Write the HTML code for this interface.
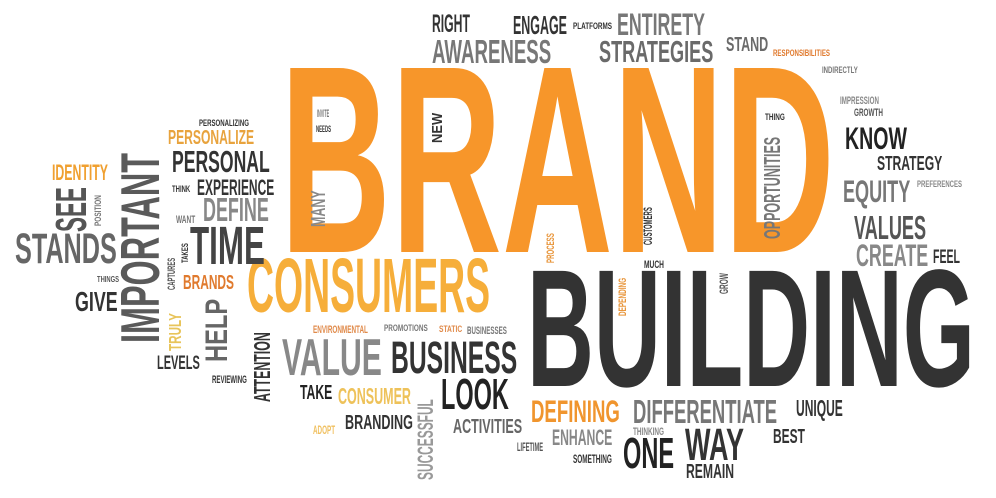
<!DOCTYPE html>
<html><head><meta charset="utf-8">
<style>
html,body{margin:0;padding:0;background:#fff;}
#cloud{position:relative;width:996px;height:498px;overflow:hidden;background:#fff;}
.w{position:absolute;white-space:nowrap;line-height:1;font-family:"Liberation Sans Narrow","Liberation Sans",sans-serif;font-weight:bold;transform-origin:0 0;display:inline-block;}
.r{position:absolute;transform-origin:0 0;transform:rotate(-90deg);width:0;height:0;}
</style></head>
<body>
<div id="cloud"></div>
<script>
// words: text, x, y (cap top), width, cap height, color, rotated(0/1)
const words = [
["BRAND",280,73,555,195,"#f7962a",0],
["BUILDING",527,275,448,122,"#333333",0],
["CONSUMERS",247,262,243,56,"#f6ae3a",0],
["RIGHT",432,17,38,18,"#333333",0],
["ENGAGE",513,17,54,19,"#333333",0],
["AWARENESS",432,42,119,24,"#777777",0],
["PLATFORMS",573,24,39,7,"#333333",0],
["ENTIRETY",617,15,88,23,"#777777",0],
["STRATEGIES",599,43,114,22,"#6a6a6a",0],
["STAND",726,39,42,15,"#6a6a6a",0],
["RESPONSIBILITIES",773,51,57,7,"#e07a2e",0],
["INDIRECTLY",822,68,36,7,"#777777",0],
["IMPRESSION",840,98,39,8,"#888888",0],
["GROWTH",854,110,29,8,"#555555",0],
["THING",765,115,20,7,"#333333",0],
["KNOW",845,129,62,23,"#222222",0],
["STRATEGY",877,158,65,15,"#333333",0],
["EQUITY",843,182,67,23,"#777777",0],
["PREFERENCES",917,182,45,7,"#888888",0],
["VALUES",854,218,72,24,"#555555",0],
["CREATE",856,246,72,23,"#888888",0],
["FEEL",933,251,27,14,"#333333",0],
["MUCH",644,262,20,8,"#333333",0],
["PERSONALIZING",199,121,50,7,"#333333",0],
["PERSONALIZE",168,132,86,15,"#e8a33d",0],
["PERSONAL",172,153,98,22,"#333333",0],
["IDENTITY",52,166,56,16,"#f0a030",0],
["THINK",172,187,18,7,"#333333",0],
["EXPERIENCE",197,181,77,16,"#333333",0],
["WANT",176,217,19,8,"#777777",0],
["DEFINE",203,200,66,24,"#888888",0],
["STANDS",15,236,102,31,"#666666",0],
["TIME",190,229,75,39,"#444444",0],
["THINGS",97,277,22,6,"#555555",0],
["BRANDS",183,277,51,15,"#e07a2e",0],
["GIVE",75,293,43,20,"#333333",0],
["LEVELS",157,357,43,14,"#333333",0],
["REVIEWING",212,377,35,8,"#333333",0],
["INVITE",317,111,12,8,"#777777",0],
["NEEDS",316,127,15,7,"#333333",0],
["ENVIRONMENTAL",313,327,55,8,"#e08a4a",0],
["PROMOTIONS",384,326,44,7,"#777777",0],
["STATIC",439,327,23,7,"#e08a4a",0],
["BUSINESSES",467,328,40,8,"#777777",0],
["VALUE",282,341,100,38,"#888888",0],
["BUSINESS",391,343,126,33,"#333333",0],
["TAKE",300,387,32,15,"#222222",0],
["CONSUMER",338,389,73,17,"#eec25a",0],
["LOOK",441,381,68,32,"#222222",0],
["ADOPT",313,426,22,9,"#f0c060",0],
["BRANDING",345,417,68,15,"#333333",0],
["ACTIVITIES",453,421,69,15,"#666666",0],
["LIFETIME",517,443,26,9,"#555555",0],
["DEFINING",531,402,89,23,"#f0952e",0],
["ENHANCE",552,431,60,16,"#888888",0],
["SOMETHING",573,455,39,9,"#333333",0],
["DIFFERENTIATE",633,402,144,24,"#777777",0],
["THINKING",633,429,31,8,"#888888",0],
["ONE",623,440,51,32,"#222222",0],
["WAY",685,430,59,33,"#333333",0],
["REMAIN",686,466,48,15,"#333333",0],
["UNIQUE",796,401,47,17,"#333333",0],
["BEST",773,431,32,15,"#333333",0],
// rotated (reading bottom-to-top): x, y = top-left of screen box, width=thickness, height=length
["SEE",58,187,32,45,"#555555",1],
["POSITION",96,195,7,31,"#777777",1],
["IMPORTANT",123,153,40,190,"#5a5a5a",1],
["TAKES",183,243,7,20,"#333333",1],
["CAPTURES",169,258,8,32,"#555555",1],
["TRULY",170,313,13,38,"#e8c45a",1],
["HELP",207,299,23,63,"#666666",1],
["ATTENTION",255,332,17,70,"#333333",1],
["MANY",313,190,15,37,"#888888",1],
["NEW",433,113,11,30,"#333333",1],
["SUCCESSFUL",419,399,16,81,"#999999",1],
["OPPORTUNITIES",765,137,17,102,"#777777",1],
["CUSTOMERS",644,207,9,38,"#333333",1],
["PROCESS",548,233,8,30,"#e8953a",1],
["DEPENDING",620,278,8,38,"#e8953a",1],
["GROW",720,273,9,21,"#555555",1]
];
const cloud = document.getElementById('cloud');
const CAP = 0.729, ASC = 0.905;
words.forEach(function(d){
  const text=d[0], x=d[1], y=d[2], w=d[3], h=d[4], color=d[5], rot=d[6];
  const len = rot ? h : w;
  const cap = rot ? w : h;
  const F = cap / CAP;
  const span = document.createElement('span');
  span.className = 'w';
  span.textContent = text;
  span.style.fontSize = F + 'px';
  span.style.color = color;
  
  
  let host = cloud;
  if (rot) {
    const wrap = document.createElement('div');
    wrap.className = 'r';
    wrap.style.left = x + 'px';
    wrap.style.top = (y + h) + 'px';
    
    
    cloud.appendChild(wrap);
    host = wrap;
    span.style.left = '0px';
    span.style.top = (-(ASC - CAP) * F) + 'px';
  } else {
    span.style.left = x + 'px';
    span.style.top = (y - (ASC - CAP) * F) + 'px';
  }
  host.appendChild(span);
  const mw = span.offsetWidth || 1;
  span.style.transform = 'scaleX(' + (len / mw) + ')';
});
</script>
</body></html>
